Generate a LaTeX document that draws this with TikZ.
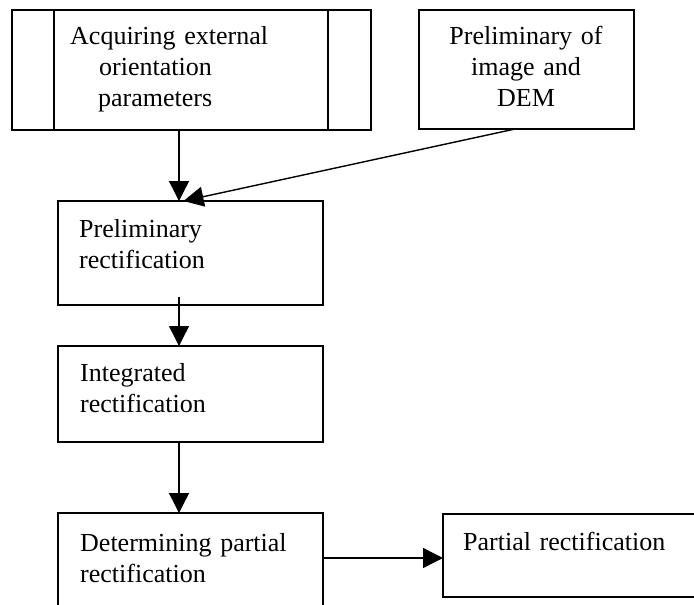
\documentclass[tikz,border=0pt]{standalone}
\usepackage{fontspec}
\setmainfont{Liberation Serif}
\usetikzlibrary{arrows.meta}

\begin{document}
\begin{tikzpicture}[x=1pt,y=-1pt,
    box/.style={draw,line width=1.4pt,rectangle,inner sep=0pt,outer sep=0pt,anchor=north west},
    txt/.style={inner sep=0pt,text width=230pt,align=left,anchor=base west,font=\fontsize{26}{31}\selectfont},
    arr/.style={line width=1.4pt,-{Triangle[length=20pt,width=20pt]}}]
    \useasboundingbox (0,0) rectangle (694,605);
    \node[box,minimum width=359pt,minimum height=120pt] (acquire) at (12,10) {};
    \node[box,minimum width=215pt,minimum height=119pt] (demprep) at (419,10) {};
    \node[box,minimum width=265pt,minimum height=104pt] (prelim) at (58,201) {};
    \node[box,minimum width=265pt,minimum height=96pt] (integ) at (58,346) {};
    \node[box,minimum width=265pt,minimum height=96pt] (determ) at (58,513) {};
    \node[box,minimum width=260pt,minimum height=83pt] (partial) at (443,514) {};
    \draw[line width=1.4pt] ([xshift=42pt]acquire.north west) -- ([xshift=42pt]acquire.south west);
    \draw[line width=1.4pt] ([xshift=-43pt]acquire.north east) -- ([xshift=-43pt]acquire.south east);
    \node[txt] (acquiretext) at (70,45) {Acquiring external\\\hspace*{29pt}orientation\\\hspace*{28pt}parameters};
    \node[txt,text width=210pt,align=center,anchor=base] (demtext) at (526,45) {Preliminary of\\image and\\DEM};
    \node[txt] (prelimtext) at (79,237) {Preliminary\\rectification};
    \node[txt] (integtext) at (80,381) {Integrated\\rectification};
    \node[txt] (determtext) at (80,551) {Determining partial\\rectification};
    \node[txt] (partialtext) at (463,550) {Partial rectification};
    \draw[arr] ([xshift=-12.5pt]acquire.south) -- ([xshift=-11.5pt]prelim.north);
    \draw[arr] ([xshift=-11.5pt]demprep.south) -- ([xshift=-7pt]prelim.north);
    \draw[arr] ([xshift=-11.5pt,yshift=8pt]prelim.south) -- ([xshift=-11.5pt]integ.north);
    \draw[arr] ([xshift=-11.5pt]integ.south) -- ([xshift=-11.5pt]determ.north);
    \draw[arr] ([yshift=3pt]determ.east) -- ([yshift=3pt]determ.east -| partial.west);
\end{tikzpicture}
\end{document}
